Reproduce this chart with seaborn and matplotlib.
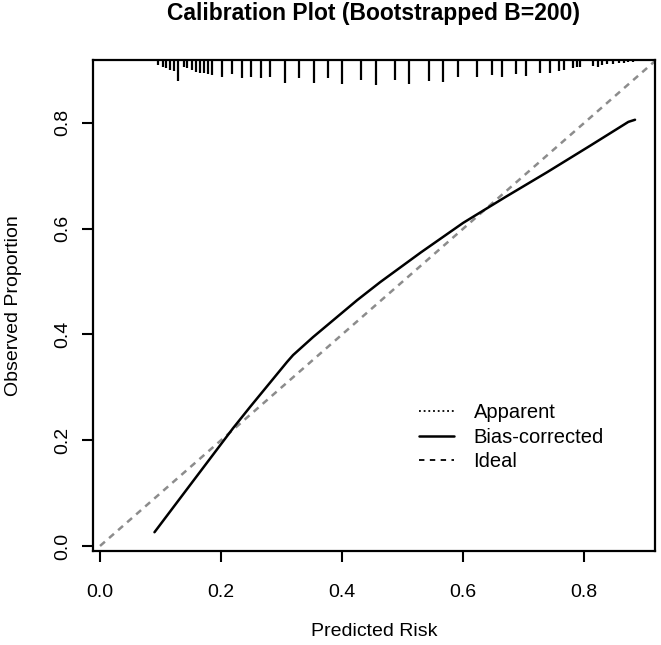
import matplotlib
matplotlib.use("Agg")
import matplotlib.pyplot as plt
import seaborn as sns
import pandas as pd
from matplotlib.lines import Line2D

# bias-corrected calibration curve
pred_risk = [0.090, 0.150, 0.220, 0.248, 0.309, 0.319, 0.352, 0.425, 0.463,
             0.530, 0.600, 0.670, 0.739, 0.810, 0.873, 0.884]
obs_prop = [0.026, 0.117, 0.223, 0.263, 0.348, 0.361, 0.395, 0.465, 0.499,
            0.555, 0.611, 0.660, 0.707, 0.757, 0.802, 0.806]

# ideal line
ideal = [0.0, 1.0]

# rug of predicted risks along the top (position, relative frequency)
rug_x = [0.096, 0.104, 0.109, 0.116, 0.123, 0.129, 0.138, 0.144, 0.152, 0.159,
         0.165, 0.172, 0.179, 0.185, 0.201, 0.218, 0.234, 0.250, 0.266, 0.281,
         0.305, 0.329, 0.353, 0.376, 0.400, 0.431, 0.456, 0.488, 0.511, 0.544,
         0.567, 0.591, 0.623, 0.647, 0.664, 0.688, 0.704, 0.727, 0.743, 0.759,
         0.766, 0.782, 0.788, 0.793, 0.815, 0.822, 0.829, 0.838, 0.848, 0.857,
         0.865, 0.873, 0.881]
rug_freq = [5, 6.7, 8.3, 10, 10.7, 20.7, 6.7, 8.3, 10, 11.7,
            12.7, 13.3, 14, 15, 16.7, 14, 18.3, 17.3, 18.3, 17.3,
            23.3, 18.3, 22.7, 18.3, 24, 20, 25, 20, 24.3, 20.7,
            22.3, 16.7, 16.7, 15, 16.7, 14, 16, 12.7, 12.7, 10.7,
            10, 8.3, 7.3, 6.7, 6, 7.3, 5, 4, 4, 3.3,
            2.7, 2.3, 2]

ticks = [0.0, 0.2, 0.4, 0.6, 0.8]
tick_labels = ["0.0", "0.2", "0.4", "0.6", "0.8"]

sns.set_style("ticks")
plt.rcParams['font.family'] = ['Liberation Sans', 'DejaVu Sans']
plt.rcParams['text.color'] = 'black'
plt.rcParams['axes.labelcolor'] = 'black'

fig = plt.figure(figsize=(6.61, 6.45), dpi=100)
ax = fig.add_axes([93 / 661, 94 / 645, 562 / 661, 491 / 645])

df_cal = pd.DataFrame({"pred": pred_risk, "obs": obs_prop})
df_ideal = pd.DataFrame({"pred": ideal, "obs": ideal})

sns.lineplot(data=df_ideal, x="pred", y="obs", ax=ax, color="#8c8c8c",
             linewidth=1.8, linestyle=(0, (2.6, 2.2)))
sns.lineplot(data=df_cal, x="pred", y="obs", ax=ax, color="black",
             linewidth=1.8, sort=False)

# rug hanging from the top border
rug_h = [f / 491 for f in rug_freq]
ax.vlines(rug_x, [1 - h for h in rug_h], 1, transform=ax.get_xaxis_transform(),
          color="black", linewidth=1.6)

ax.set_xlim(-0.0116, 0.917)
ax.set_ylim(-0.0095, 0.919)
ax.set_xticks(ticks)
ax.set_xticklabels(tick_labels)
ax.set_yticks(ticks)
ax.set_yticklabels(tick_labels, rotation=90, va="center")
ax.tick_params(axis="both", direction="out", length=8, width=1.5,
               labelsize=14, colors="black")
ax.tick_params(axis="x", pad=15.5)
ax.tick_params(axis="y", pad=8)

for sp in ax.spines.values():
    sp.set_visible(True)
    sp.set_color("black")
    sp.set_linewidth(1.6)

ax.set_xlabel("Predicted Risk", fontsize=14, labelpad=16)
ax.set_ylabel("Observed Proportion", fontsize=14, labelpad=23)
ax.set_title("Calibration Plot (Bootstrapped B=200)", fontsize=16.5,
             fontweight="bold", pad=29)

handles = [
    Line2D([], [], color="black", linewidth=1.3, linestyle=(0, (1, 1.6))),
    Line2D([], [], color="black", linewidth=1.8),
    Line2D([], [], color="black", linewidth=1.3, linestyle=(0, (3, 3))),
]
ax.legend(handles, ["Apparent", "Bias-corrected", "Ideal"], loc="upper left",
          bbox_to_anchor=(0.548, 0.338), frameon=False, fontsize=14.5,
          handlelength=1.75, handletextpad=0.95, labelspacing=0.27)

fig.savefig("out.png", dpi=100)
